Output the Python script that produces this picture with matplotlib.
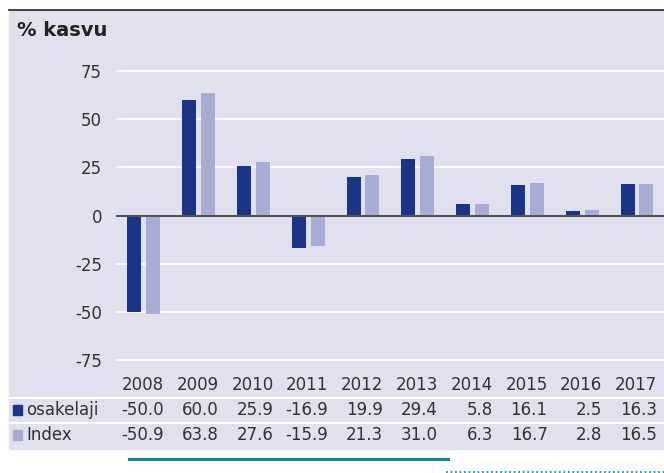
import matplotlib.pyplot as plt
from matplotlib.patches import Rectangle
from matplotlib.lines import Line2D
import numpy as np

years = ['2008', '2009', '2010', '2011', '2012', '2013', '2014', '2015', '2016', '2017']
osakelaji = [-50.0, 60.0, 25.9, -16.9, 19.9, 29.4, 5.8, 16.1, 2.5, 16.3]
index_vals = [-50.9, 63.8, 27.6, -15.9, 21.3, 31.0, 6.3, 16.7, 2.8, 16.5]
yticks = [-75, -50, -25, 0, 25, 50, 75]

dark = '#1c3485'
light = '#a9acd2'
bg = '#e0e0ee'
txt = '#333333'

W, H = 664, 473
fig = plt.figure(figsize=(W / 100, H / 100), dpi=100)
plt.rcParams['font.family'] = 'DejaVu Sans'

def fx(px):
    return px / W

def fy(py):
    return 1 - py / H

# background panel and top rule
fig.patches.append(Rectangle((fx(9), fy(449)), fx(664) - fx(9), fy(10) - fy(449),
                             transform=fig.transFigure, color=bg, zorder=-5))
fig.lines.append(Line2D([fx(9), 1], [fy(10), fy(10)], transform=fig.transFigure,
                        color='#222222', lw=1.2))

fig.text(fx(17), fy(31), '% kasvu', fontsize=14, fontweight='bold', color='#222222',
         va='center', ha='left')

# plot area
ax_top, ax_bot = 50, 375.5
ax = fig.add_axes([fx(116), fy(ax_bot), 1 - fx(116), fy(ax_top) - fy(ax_bot)])
ax.set_zorder(2)
ax.set_facecolor('none')
for s in ax.spines.values():
    s.set_visible(False)

x = np.arange(len(years))
ax.bar(x - 0.165, osakelaji, width=0.255, color=dark, zorder=3)
ax.bar(x + 0.18, index_vals, width=0.255, color=light, zorder=3)
ax.set_xlim(-0.5, 9.5)
ax.set_ylim(-83, 86)
ax.set_yticks(yticks)
ax.set_yticklabels([str(v) for v in yticks], fontsize=12, color=txt)
ax.tick_params(axis='y', length=0, pad=10)
ax.set_xticks([])
ax.grid(axis='y', color='white', lw=1.2, zorder=1)
ax.set_axisbelow(True)
ax.axhline(0, color='#555555', lw=1.5, zorder=4)

# data table below the chart
centers = [143 + 54.8 * i for i in range(len(years))]
for i, yr in enumerate(years):
    rx = fx(centers[i] + 21)
    fig.text(rx, fy(385), yr, fontsize=12, color=txt, ha='right', va='center')
    fig.text(rx, fy(410), f'{osakelaji[i]:.1f}', fontsize=12, color=txt, ha='right', va='center')
    fig.text(rx, fy(435), f'{index_vals[i]:.1f}', fontsize=12, color=txt, ha='right', va='center')

for yy in (398, 423):
    fig.lines.append(Line2D([fx(9), 1], [fy(yy), fy(yy)], transform=fig.transFigure,
                            color='white', lw=1.5))

fig.patches.append(Rectangle((fx(13), fy(415)), fx(9), fy(405) - fy(415),
                             transform=fig.transFigure, color=dark))
fig.patches.append(Rectangle((fx(13), fy(440)), fx(9), fy(430) - fy(440),
                             transform=fig.transFigure, color=light))
fig.text(fx(26), fy(410), 'osakelaji', fontsize=12, color=txt, ha='left', va='center')
fig.text(fx(26), fy(435), 'Index', fontsize=12, color=txt, ha='left', va='center')

# bottom decorative lines
fig.lines.append(Line2D([fx(129), fx(448)], [fy(459), fy(459)], transform=fig.transFigure,
                        color='#1a7ea6', lw=2.2))
fig.lines.append(Line2D([fx(446), 1], [fy(472), fy(472)], transform=fig.transFigure,
                        color='#1a8fb5', lw=1.3, ls=(0, (1, 1.5))))

fig.savefig('out.png', dpi=100)
